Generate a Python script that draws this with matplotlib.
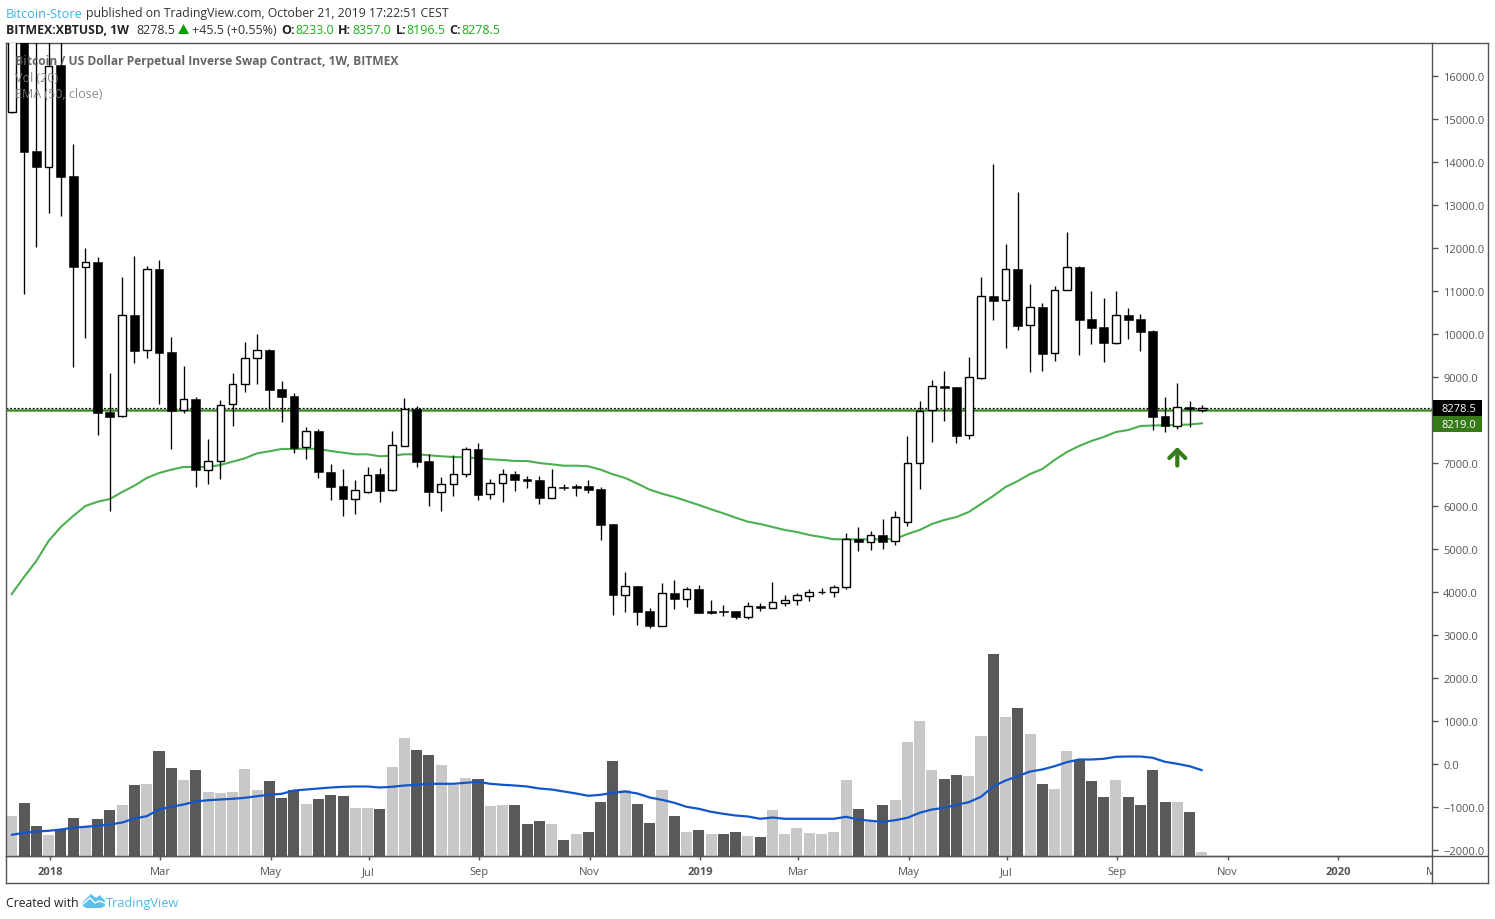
import matplotlib
matplotlib.use('Agg')
import matplotlib.pyplot as plt
from matplotlib.patches import Rectangle, Polygon, FancyArrowPatch

W, H = 1495, 920

# weekly candles, first one is the week of 11 Dec 2017
opens = [15170, 19000, 14260, 13890, 16250, 13670, 11565, 11670, 8180, 8085,
         10430, 9620, 11500, 9570, 8225, 8490, 6840, 7040, 8365, 8830,
         9430, 9630, 8715, 8550, 7365, 7750, 6785, 6460, 6170, 6320,
         6745, 6365, 7400, 8255, 7045, 6335, 6505, 6735, 7325, 6270,
         6525, 6745, 6635, 6605, 6190, 6445, 6470, 6465, 6395, 5580,
         3935, 4140, 3560, 3220, 3975, 3845, 4070, 3560, 3550, 3560,
         3430, 3680, 3635, 3755, 3810, 3915, 3990, 3990, 4105, 5235,
         5170, 5325, 5175, 5630, 6995, 8225, 8790, 8770, 7645, 8985,
         10885, 10785, 11515, 10200, 10630, 9550, 11020, 11560, 10350, 10165,
         9800, 10440, 10350, 10070, 8095, 7865, 8305, 8233]
closes = [19000, 14240, 13890, 16240, 13660, 11565, 11670, 8170, 8080, 10430,
          9610, 11500, 9565, 8215, 8480, 6840, 7040, 8360, 8830, 9430,
          9620, 8705, 8540, 7360, 7740, 6780, 6450, 6170, 6365, 6730,
          6350, 7410, 8250, 7030, 6335, 6505, 6735, 7320, 6265, 6525,
          6735, 6605, 6580, 6185, 6435, 6425, 6415, 6370, 5560, 3930,
          4135, 3535, 3210, 3970, 3835, 4060, 3510, 3510, 3535, 3420,
          3665, 3630, 3760, 3810, 3925, 3990, 4000, 4110, 5225, 5170,
          5320, 5170, 5740, 6995, 8220, 8785, 8745, 7635, 8990, 10880,
          10775, 11510, 10195, 10625, 9535, 11015, 11550, 10325, 10140, 9790,
          10435, 10325, 10045, 8070, 7860, 8295, 8245, 8278.5]
highs = [19700, 19200, 17000, 17200, 17250, 14420, 12000, 11790, 9100, 11320,
         11810, 11580, 11710, 9925, 9260, 8535, 7560, 8465, 9095, 9815,
         10000, 9650, 8905, 8620, 7830, 7790, 6980, 6860, 6600, 6900,
         6885, 7745, 8510, 8325, 7200, 6670, 7185, 7370, 7465, 6630,
         6860, 6805, 6700, 6690, 6860, 6510, 6510, 6605, 6435, 5590,
         4470, 4140, 3630, 4210, 4280, 4110, 4160, 3815, 3700, 3560,
         3760, 3740, 4235, 3930, 3970, 4070, 4095, 4155, 5370, 5510,
         5420, 5690, 5885, 7630, 8440, 8930, 9140, 8770, 9465, 11330,
         13950, 12095, 13300, 11160, 10720, 11115, 12375, 11580, 11000, 10840,
         11000, 10605, 10470, 10095, 8535, 8860, 8440, 8357]
lows = [15140, 10940, 12020, 12810, 12750, 9240, 9910, 7660, 5890, 8070,
        9330, 9430, 8380, 7330, 8170, 6450, 6520, 6635, 7850, 8660,
        8845, 8255, 7960, 7240, 7100, 6660, 6150, 5770, 5820, 6310,
        6100, 6360, 7400, 6915, 6010, 5890, 6240, 6680, 6150, 6170,
        6100, 6360, 6425, 6055, 6185, 6380, 6230, 6300, 5210, 3465,
        3540, 3230, 3165, 3215, 3605, 3650, 3505, 3490, 3440, 3375,
        3375, 3565, 3630, 3675, 3700, 3790, 3960, 3875, 4070, 4955,
        4980, 5000, 5100, 5540, 6400, 7490, 7985, 7475, 7560, 8950,
        10330, 9675, 10095, 9115, 9140, 9370, 11020, 9510, 9770, 9350,
        9770, 9885, 9605, 7770, 7720, 7790, 7840, 8196.5]

ema50 = [3953, 4349, 4721, 5186, 5512, 5767, 6000, 6100, 6163, 6325,
         6472, 6651, 6767, 6844, 6907, 6907, 6907, 6953, 7030, 7109,
         7225, 7272, 7326, 7326, 7333, 7326, 7279, 7240, 7202, 7202,
         7156, 7170, 7202, 7202, 7179, 7156, 7140, 7133, 7109, 7086,
         7070, 7047, 7047, 7000, 6970, 6937, 6937, 6923, 6844, 6737,
         6651, 6519, 6379, 6286, 6209, 6116, 6023, 5923, 5830, 5728,
         5635, 5581, 5512, 5442, 5395, 5326, 5279, 5226, 5226, 5226,
         5226, 5226, 5233, 5349, 5442, 5581, 5674, 5744, 5860, 6047,
         6233, 6442, 6581, 6744, 6860, 7070, 7256, 7395, 7512, 7605,
         7721, 7767, 7860, 7872, 7877, 7884, 7895, 7923]

# volume has no scale of its own in the picture, so these are relative heights
volume = [40, 53, 30, 21, 27, 38, 30, 37, 46, 51,
          71, 72, 105, 88, 76, 86, 64, 63, 64, 87,
          66, 75, 58, 66, 52, 57, 61, 60, 48, 48,
          47, 89, 118, 106, 101, 91, 71, 78, 77, 50,
          51, 51, 32, 35, 32, 16, 22, 24, 54, 95,
          66, 52, 33, 66, 40, 24, 26, 22, 22, 24,
          20, 19, 46, 22, 28, 23, 22, 24, 76, 47,
          34, 51, 56, 114, 135, 86, 77, 81, 80, 120,
          202, 139, 148, 122, 72, 67, 105, 96, 75, 59,
          76, 59, 51, 86, 54, 54, 44, 4]
vol_dir = 'LDDLDDLDDLDLDDLDLLLLLDDDLDDDLLDLLDDLLLDLLDDDLDLDDDLDDLDLDLDDLDLLLLLLLDLDLLLLDDLLDLDLDLLDDDLDDDDLDL'
vol_ma = [20.7, 22.7, 24, 24.7, 26, 27.7, 28.7, 29.7, 31, 33,
          37, 39.3, 46, 48.7, 51, 54, 55.3, 56, 56.7, 57.7,
          59.3, 60.7, 61.7, 65, 66, 67, 68, 68.7, 69, 69,
          68, 68.7, 70, 70.7, 71.7, 71.7, 71.7, 72.7, 73.7, 71.7,
          70.7, 70, 69, 67, 66, 64, 62, 59.7, 60.7, 62.7,
          64, 62, 58, 55.7, 52.7, 48.7, 46.7, 43.7, 41.7, 40,
          39, 36.7, 38, 36.7, 36.7, 36.7, 36.7, 36.7, 38.7, 36,
          34.7, 33.7, 35.3, 37.7, 42.7, 46, 47.7, 50.7, 53.3, 58.7,
          69, 75, 79.3, 84, 86, 89.3, 93.3, 96, 96, 96.7,
          98.7, 99, 99, 97.7, 93.7, 91.7, 89.3, 85.3]

# bar index of each label on the time scale
time_ticks = [3, 12, 21, 29, 38, 47, 56, 64, 73, 81, 90, 99, 108, 116]
time_labels = ['2018', 'Mar', 'May', 'Jul', 'Sep', 'Nov', '2019', 'Mar', 'May',
               'Jul', 'Sep', 'Nov', '2020', 'Mar']
price_ticks = list(range(-2000, 17000, 1000))
hidden_price_labels = [8000]  # covered by the price tags in the original

last_price = 8278.5
support_line = 8240
ema_last = 8219.0

FONT = 'Open Sans'
plt.rcParams['font.family'] = [FONT, 'DejaVu Sans']
GREY = '#555555'
DARK_GREEN = '#377a1a'
X_RANGE = (-0.47, 115.76)
TICK_SHIFT = 0.1  # labels sit a bit right of the bar centres


def fx(px):
    return px / W


def fy(px):
    return 1 - px / H


def ax_rect(left, top, right, bottom):
    return [fx(left), fy(bottom), (right - left) / W, (bottom - top) / H]


fig = plt.figure(figsize=(W / 100, H / 100), dpi=100, facecolor='white')

# main pane
ax = fig.add_axes(ax_rect(6, 44, 1432, 856.5))
ax.set_xlim(*X_RANGE)
ax.set_ylim(-2128, 16767)
ax.set_zorder(2)
ax.patch.set_visible(False)

# volume pane sits behind it with the same x range
vol_ax = fig.add_axes(ax_rect(6, 44, 1432, 856.5))
vol_ax.set_xlim(*X_RANGE)
vol_ax.set_ylim(0, 812.5)
vol_ax.axis('off')
vol_ax.set_zorder(1)

x = range(len(opens))
vol_colors = ['#c8c8c8' if d == 'L' else '#595959' for d in vol_dir]
vol_ax.bar(x, volume, width=0.9, color=vol_colors, linewidth=0)
vol_ax.plot(x, vol_ma, color='#1256cc', lw=1.6, solid_capstyle='round')

ax.axhline(support_line, color='#7dbb6d', lw=2.2, zorder=2)
ax.axhline(support_line, color='#3f7f28', lw=0.8, zorder=2.1)
ax.axhline(last_price, color='black', lw=0.9, ls=(0, (1.5, 1.5)), zorder=2.2)
ax.plot(x, ema50, color='#4caf50', lw=1.5, zorder=2.5)

for i in x:
    o, c = opens[i], closes[i]
    ax.vlines(i, lows[i], highs[i], color='black', lw=0.95, zorder=3)
    if c >= o:
        ax.add_patch(Rectangle((i - 0.31, o), 0.62, c - o, facecolor='white',
                               edgecolor='black', lw=1.0, zorder=4))
    else:
        ax.add_patch(Rectangle((i - 0.36, c), 0.72, o - c, facecolor='black',
                               edgecolor='black', lw=0.4, zorder=4))

# the green arrow under the support test
ax.add_patch(FancyArrowPatch((95, 6940), (95, 7370), color=DARK_GREEN, lw=3,
                             arrowstyle='->,head_length=0.36,head_width=0.36',
                             mutation_scale=16, shrinkA=0, shrinkB=0, zorder=5))

ax.yaxis.tick_right()
ax.set_yticks(price_ticks)
ax.set_yticklabels(['' if p in hidden_price_labels else f'{p:.1f}'.replace('-', '\u2212')
                    for p in price_ticks])
ax.tick_params(axis='y', length=4, width=1, color=GREY, labelcolor=GREY,
               labelsize=8, pad=4)
ax.set_xticks([])
for s in ax.spines.values():
    s.set_color(GREY)
    s.set_linewidth(1)

# time scale strip
time_ax = fig.add_axes(ax_rect(6, 856.5, 1432, 883.5))
time_ax.set_xlim(*X_RANGE)
time_ax.set_ylim(0, 1)
time_ax.set_yticks([])
time_ax.set_xticks([t + TICK_SHIFT for t in time_ticks])
time_ax.set_xticklabels([])
time_ax.tick_params(axis='x', bottom=False, top=True, direction='in',
                    length=3, width=1, color=GREY)
time_ax.set_xlim(*X_RANGE)
for s in time_ax.spines.values():
    s.set_color(GREY)
    s.set_linewidth(1)
for t, lab in zip(time_ticks, time_labels):
    bold = lab.isdigit()
    time_ax.text(t + TICK_SHIFT, 0.42, lab, ha='center', va='center', fontsize=8, color=GREY,
                 fontweight='bold' if bold else 'normal', clip_on=True)

# rest of the outer frame, right of the price axis
for xs, ys in [((1432, 1488), (44, 44)), ((1488, 1488), (44, 883.5)),
               ((1432, 1488), (883.5, 883.5)), ((1432, 1488), (856.5, 856.5))]:
    fig.add_artist(plt.Line2D([fx(v) for v in xs], [fy(v) for v in ys], color=GREY, lw=1))


# price labels on the scale
def price_tag(top, bottom, colour, text):
    fig.add_artist(Rectangle((fx(1433), fy(bottom)), 49 / W, (bottom - top) / H,
                             transform=fig.transFigure, facecolor=colour, edgecolor='none',
                             zorder=10))
    fig.text(fx(1441), fy((top + bottom) / 2 + 0.5), text, color='white', fontsize=8,
             va='center', ha='left', zorder=11)


price_tag(400.5, 417, 'black', f'{last_price:.1f}')
price_tag(417, 433, DARK_GREEN, f'{ema_last:.1f}')

# pane legend, drawn over the candles
fig.text(fx(15), fy(61), 'Bitcoin / US Dollar Perpetual Inverse Swap Contract, 1W, BITMEX',
         fontsize=8.65, fontweight='bold', color='#555555', alpha=0.9, va='center', zorder=12)
fig.text(fx(15), fy(78), 'Vol (20)', fontsize=9, color='#808080', alpha=0.9, va='center', zorder=12)
fig.text(fx(15), fy(95), 'EMA (50, close)', fontsize=9, color='#808080', alpha=0.9, va='center', zorder=12)

# header
fig.text(fx(6), fy(14), 'Bitcoin-Store', fontsize=9.2, color='#3bb3e4', va='center')
fig.text(fx(86), fy(14), 'published on TradingView.com, October 21, 2019 17:22:51 CEST',
         fontsize=8.8, color='#333333', va='center')
fig.text(fx(6), fy(30), 'BITMEX:XBTUSD, 1W', fontsize=8.85, fontweight='bold', color='#222222', va='center')
fig.text(fx(136), fy(30), '8278.5', fontsize=9, color='#333333', va='center')
fig.add_artist(Polygon([(fx(178), fy(35)), (fx(189), fy(35)), (fx(183.5), fy(25))],
                       transform=fig.transFigure, facecolor='#0aa00a', edgecolor='none'))
fig.text(fx(192), fy(30), '+45.5 (+0.55%)', fontsize=9, color='#333333', va='center')
ohlc_text = [(281, 'O:', 295, '8233.0'), (338, 'H:', 352, '8357.0'),
             (396, 'L:', 406, '8196.5'), (449, 'C:', 461, '8278.5')]
for lx, lab, vx, val in ohlc_text:
    fig.text(fx(lx), fy(30), lab, fontsize=9, fontweight='bold', color='#222222', va='center')
    fig.text(fx(vx), fy(30), val, fontsize=9, color='#1cb01c', va='center')

# footer with a rough TradingView cloud
cloud = [(82, 904), (87, 899), (91, 895), (96, 899), (100, 896), (105, 902), (105, 907),
         (101, 909), (86, 909), (83, 907)]
fig.add_artist(Polygon([(fx(a), fy(b)) for a, b in cloud], transform=fig.transFigure,
                       facecolor='#5cc0ea', edgecolor='none'))
fig.add_artist(plt.Line2D([fx(a) for a in (83, 90, 95, 99, 105)],
                          [fy(b) for b in (905, 899, 904, 902, 904)], color='white', lw=1))
fig.text(fx(6), fy(903.5), 'Created with', fontsize=8.8, color='#222222', va='center')
fig.text(fx(106), fy(903.5), 'TradingView', fontsize=9.2, color='#4db8e8', va='center')

fig.savefig('out.png', dpi=100, facecolor='white')
